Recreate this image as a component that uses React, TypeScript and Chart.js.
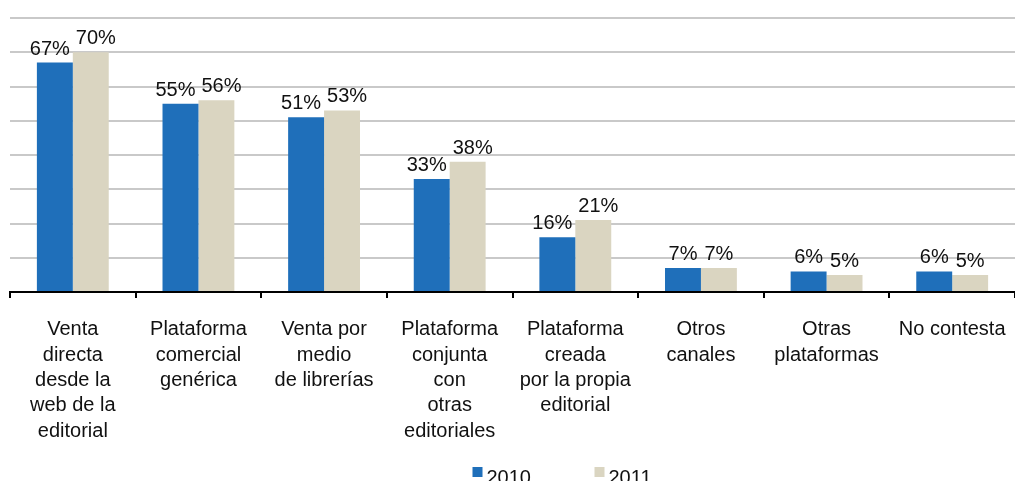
import React, { useEffect, useRef } from "react";
import { Chart, registerables } from "chart.js";

Chart.register(...registerables);

const categories: string[][] = [
  ["Venta", "directa", "desde la", "web de la", "editorial"],
  ["Plataforma", "comercial", "genérica"],
  ["Venta por", "medio", "de librerías"],
  ["Plataforma", "conjunta", "con", "otras", "editoriales"],
  ["Plataforma", "creada", "por la propia", "editorial"],
  ["Otros", "canales"],
  ["Otras", "plataformas"],
  ["No contesta"],
];
const seriesNames = ["2010", "2011"];
const values2010 = [67, 55, 51, 33, 16, 7, 6, 6];
const values2011 = [70, 56, 53, 38, 21, 7, 5, 5];
const yMax = 80;
const yStep = 10;

const FONT = "'Liberation Sans', Arial, Helvetica, sans-serif";
const BLUE = "#1f6fba";
const BEIGE = "#dad5c1";

const labelPlugin = {
  id: "barLabels",
  afterDatasetsDraw(chart: any) {
    const ctx = chart.ctx;
    ctx.save();
    ctx.font = `20px ${FONT}`;
    ctx.fillStyle = "#111";
    ctx.textAlign = "center";
    ctx.textBaseline = "alphabetic";
    const m0 = chart.getDatasetMeta(0);
    const m1 = chart.getDatasetMeta(1);
    const d0 = chart.data.datasets[0].data;
    const d1 = chart.data.datasets[1].data;
    for (let i = 0; i < m0.data.length; i++) {
      const b0 = m0.data[i];
      const b1 = m1.data[i];
      const t0 = d0[i] + "%";
      const t1 = d1[i] + "%";
      const w0 = ctx.measureText(t0).width;
      const w1 = ctx.measureText(t1).width;
      let x0 = b0.x;
      let x1 = b1.x;
      const gap = 6;
      const overlap = x0 + w0 / 2 + gap - (x1 - w1 / 2);
      if (overlap > 0) {
        x0 -= overlap / 2;
        x1 += overlap / 2;
      }
      ctx.fillText(t0, x0, b0.y - 8);
      ctx.fillText(t1, x1, b1.y - 8);
    }
    ctx.restore();
  },
};

const legendPlugin = {
  id: "customLegend",
  afterDraw(chart: any) {
    const ctx = chart.ctx;
    ctx.save();
    ctx.font = `20px ${FONT}`;
    ctx.textBaseline = "alphabetic";
    const startX = chart.width / 2 - 35;
    const spacing = 122;
    chart.data.datasets.forEach((ds: any, i: number) => {
      const x = startX + i * spacing;
      ctx.fillStyle = ds.backgroundColor;
      ctx.fillRect(x, 467, 10, 10);
      ctx.fillStyle = "#111";
      ctx.fillText(ds.label, x + 14, 484);
    });
    ctx.restore();
  },
};

export default function App() {
  const ref = useRef<HTMLCanvasElement | null>(null);
  useEffect(() => {
    if (!ref.current) return;
    const chart = new Chart(ref.current, {
      type: "bar",
      data: {
        labels: categories,
        datasets: [
          { label: seriesNames[0], data: values2010, backgroundColor: BLUE },
          { label: seriesNames[1], data: values2011, backgroundColor: BEIGE },
        ],
      },
      options: {
        animation: false,
        responsive: false,
        devicePixelRatio: 1,
        layout: { padding: { left: 10, right: -3, top: 18, bottom: 18 } },
        datasets: {
          bar: { categoryPercentage: 0.572, barPercentage: 1 },
        },
        plugins: {
          legend: { display: false },
          tooltip: { enabled: false },
        },
        scales: {
          x: {
            afterFit: (scale: any) => {
              scale.paddingLeft = 0;
              scale.paddingRight = 0;
            },
            grid: {
              display: true,
              drawOnChartArea: false,
              drawTicks: true,
              tickLength: 6,
              color: "#000",
              lineWidth: 2,
              offset: true,
            },
            border: { display: true, color: "#000", width: 2 },
            ticks: {
              autoSkip: false,
              maxRotation: 0,
              minRotation: 0,
              padding: 19,
              color: "#111",
              font: { family: FONT, size: 20, lineHeight: 1.27 },
            },
          },
          y: {
            min: 0,
            max: yMax,
            ticks: { display: false, stepSize: yStep },
            border: { display: false },
            grid: {
              drawTicks: false,
              lineWidth: 2,
              color: (c: any) => (c.tick && c.tick.value === 0 ? "rgba(0,0,0,0)" : "#c9c9c9"),
            },
          },
        },
      },
      plugins: [labelPlugin, legendPlugin],
    });
    return () => chart.destroy();
  }, []);
  return (
    <div style={{ position: "fixed", left: 0, top: 0, width: 1015, height: 481, background: "#fff" }}>
      <canvas ref={ref} width={1015} height={481} style={{ display: "block" }} />
    </div>
  );
}
